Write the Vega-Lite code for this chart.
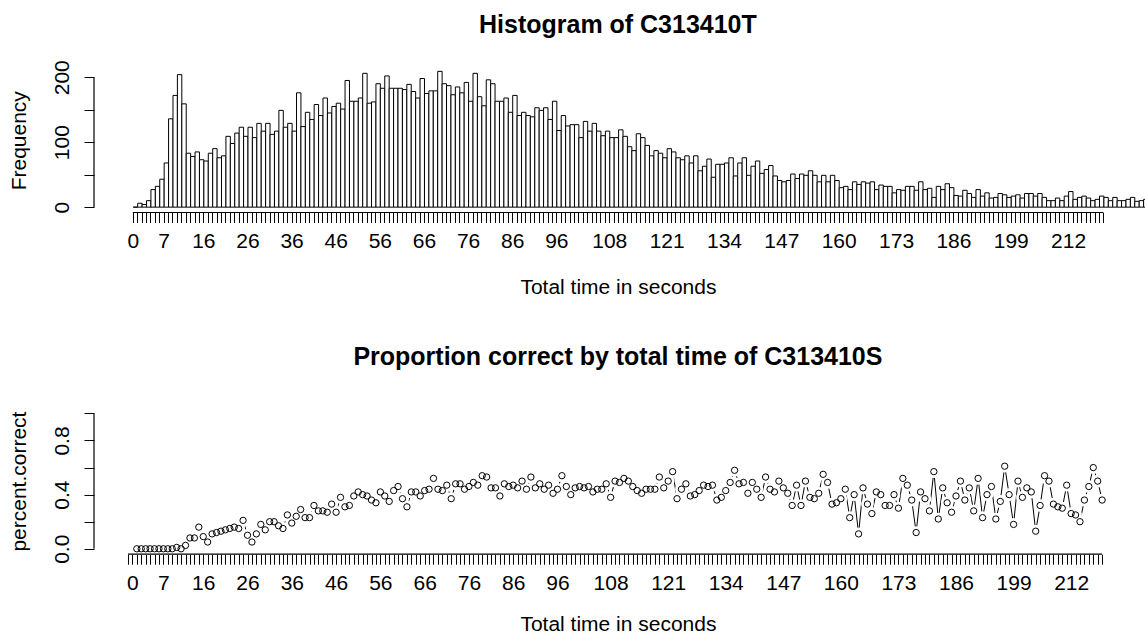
{
  "$schema": "https://vega.github.io/schema/vega-lite/v6.json",
  "background": "white",
  "padding": {"left": 9, "top": 12, "right": 0, "bottom": 0},
  "config": {
    "font": "Liberation Sans",
    "view": {"stroke": null},
    "axis": {
      "labelFont": "Liberation Sans", "labelFontSize": 21, "labelColor": "black",
      "titleFont": "Liberation Sans", "titleFontSize": 21, "titleFontWeight": "normal", "titleColor": "black",
      "tickColor": "black", "tickSize": 10, "tickWidth": 1, "domain": false, "grid": false
    },
    "title": {"font": "Liberation Sans", "fontSize": 25, "fontWeight": "bold", "color": "black", "frame": "group", "anchor": "middle"}
  },
  "datasets": {
    "hist": [
      {"t":0,"n":0},{"t":1,"n":6},{"t":2,"n":4},{"t":3,"n":10},{"t":4,"n":27},{"t":5,"n":32},{"t":6,"n":43},{"t":7,"n":68},{"t":8,"n":136},{"t":9,"n":172},
      {"t":10,"n":204},{"t":11,"n":159},{"t":12,"n":83},{"t":13,"n":78},{"t":14,"n":85},{"t":15,"n":73},{"t":16,"n":71},{"t":17,"n":83},{"t":18,"n":90},{"t":19,"n":76},
      {"t":20,"n":79},{"t":21,"n":109},{"t":22,"n":98},{"t":23,"n":114},{"t":24,"n":123},{"t":25,"n":109},{"t":26,"n":123},{"t":27,"n":107},{"t":28,"n":129},{"t":29,"n":117},
      {"t":30,"n":129},{"t":31,"n":112},{"t":32,"n":117},{"t":33,"n":149},{"t":34,"n":123},{"t":35,"n":129},{"t":36,"n":117},{"t":37,"n":176},{"t":38,"n":124},{"t":39,"n":146},
      {"t":40,"n":135},{"t":41,"n":158},{"t":42,"n":141},{"t":43,"n":168},{"t":44,"n":145},{"t":45,"n":155},{"t":46,"n":160},{"t":47,"n":151},{"t":48,"n":195},{"t":49,"n":163},
      {"t":50,"n":163},{"t":51,"n":168},{"t":52,"n":206},{"t":53,"n":160},{"t":54,"n":162},{"t":55,"n":190},{"t":56,"n":183},{"t":57,"n":202},{"t":58,"n":183},{"t":59,"n":183},
      {"t":60,"n":183},{"t":61,"n":181},{"t":62,"n":189},{"t":63,"n":178},{"t":64,"n":168},{"t":65,"n":198},{"t":66,"n":175},{"t":67,"n":179},{"t":68,"n":179},{"t":69,"n":209},
      {"t":70,"n":190},{"t":71,"n":187},{"t":72,"n":173},{"t":73,"n":185},{"t":74,"n":176},{"t":75,"n":192},{"t":76,"n":163},{"t":77,"n":206},{"t":78,"n":170},{"t":79,"n":156},
      {"t":80,"n":196},{"t":81,"n":190},{"t":82,"n":163},{"t":83,"n":163},{"t":84,"n":168},{"t":85,"n":146},{"t":86,"n":172},{"t":87,"n":141},{"t":88,"n":146},{"t":89,"n":141},
      {"t":90,"n":139},{"t":91,"n":153},{"t":92,"n":149},{"t":93,"n":153},{"t":94,"n":135},{"t":95,"n":163},{"t":96,"n":118},{"t":97,"n":141},{"t":98,"n":125},{"t":99,"n":127},
      {"t":100,"n":127},{"t":101,"n":107},{"t":102,"n":132},{"t":103,"n":117},{"t":104,"n":129},{"t":105,"n":117},{"t":106,"n":110},{"t":107,"n":117},{"t":108,"n":107},{"t":109,"n":107},
      {"t":110,"n":119},{"t":111,"n":109},{"t":112,"n":93},{"t":113,"n":87},{"t":114,"n":113},{"t":115,"n":107},{"t":116,"n":95},{"t":117,"n":79},{"t":118,"n":87},{"t":119,"n":83},
      {"t":120,"n":76},{"t":121,"n":90},{"t":122,"n":85},{"t":123,"n":76},{"t":124,"n":73},{"t":125,"n":79},{"t":126,"n":68},{"t":127,"n":79},{"t":128,"n":56},{"t":129,"n":63},
      {"t":130,"n":74},{"t":131,"n":46},{"t":132,"n":66},{"t":133,"n":66},{"t":134,"n":68},{"t":135,"n":76},{"t":136,"n":48},{"t":137,"n":68},{"t":138,"n":76},{"t":139,"n":49},
      {"t":140,"n":63},{"t":141,"n":71},{"t":142,"n":52},{"t":143,"n":58},{"t":144,"n":64},{"t":145,"n":48},{"t":146,"n":41},{"t":147,"n":39},{"t":148,"n":41},{"t":149,"n":51},
      {"t":150,"n":44},{"t":151,"n":51},{"t":152,"n":49},{"t":153,"n":56},{"t":154,"n":49},{"t":155,"n":39},{"t":156,"n":49},{"t":157,"n":39},{"t":158,"n":49},{"t":159,"n":41},
      {"t":160,"n":30},{"t":161,"n":32},{"t":162,"n":27},{"t":163,"n":39},{"t":164,"n":35},{"t":165,"n":39},{"t":166,"n":37},{"t":167,"n":39},{"t":168,"n":27},{"t":169,"n":34},
      {"t":170,"n":32},{"t":171,"n":32},{"t":172,"n":22},{"t":173,"n":27},{"t":174,"n":26},{"t":175,"n":32},{"t":176,"n":32},{"t":177,"n":26},{"t":178,"n":39},{"t":179,"n":27},
      {"t":180,"n":29},{"t":181,"n":15},{"t":182,"n":32},{"t":183,"n":27},{"t":184,"n":36},{"t":185,"n":30},{"t":186,"n":18},{"t":187,"n":17},{"t":188,"n":26},{"t":189,"n":21},
      {"t":190,"n":15},{"t":191,"n":27},{"t":192,"n":17},{"t":193,"n":22},{"t":194,"n":14},{"t":195,"n":15},{"t":196,"n":21},{"t":197,"n":19},{"t":198,"n":15},{"t":199,"n":17},
      {"t":200,"n":19},{"t":201,"n":14},{"t":202,"n":21},{"t":203,"n":21},{"t":204,"n":17},{"t":205,"n":21},{"t":206,"n":15},{"t":207,"n":10},{"t":208,"n":10},{"t":209,"n":14},
      {"t":210,"n":10},{"t":211,"n":17},{"t":212,"n":24},{"t":213,"n":12},{"t":214,"n":15},{"t":215,"n":17},{"t":216,"n":14},{"t":217,"n":10},{"t":218,"n":12},{"t":219,"n":17},
      {"t":220,"n":15},{"t":221,"n":10},{"t":222,"n":15},{"t":223,"n":10},{"t":224,"n":10},{"t":225,"n":12},{"t":226,"n":15},{"t":227,"n":9},{"t":228,"n":10},{"t":229,"n":12}
    ],
    "prop": [
      {"t":1,"p":0},{"t":2,"p":0},{"t":3,"p":0},{"t":4,"p":0},{"t":5,"p":0},{"t":6,"p":0},{"t":7,"p":0},{"t":8,"p":0},{"t":9,"p":0},{"t":10,"p":0.01},
      {"t":11,"p":0},{"t":12,"p":0.025},{"t":13,"p":0.08},{"t":14,"p":0.08},{"t":15,"p":0.16},{"t":16,"p":0.09},{"t":17,"p":0.05},{"t":18,"p":0.11},{"t":19,"p":0.12},{"t":20,"p":0.13},
      {"t":21,"p":0.14},{"t":22,"p":0.15},{"t":23,"p":0.16},{"t":24,"p":0.15},{"t":25,"p":0.21},{"t":26,"p":0.10},{"t":27,"p":0.05},{"t":28,"p":0.11},{"t":29,"p":0.18},{"t":30,"p":0.14},
      {"t":31,"p":0.20},{"t":32,"p":0.20},{"t":33,"p":0.17},{"t":34,"p":0.15},{"t":35,"p":0.25},{"t":36,"p":0.19},{"t":37,"p":0.24},{"t":38,"p":0.29},{"t":39,"p":0.23},{"t":40,"p":0.23},
      {"t":41,"p":0.32},{"t":42,"p":0.28},{"t":43,"p":0.28},{"t":44,"p":0.27},{"t":45,"p":0.33},{"t":46,"p":0.27},{"t":47,"p":0.38},{"t":48,"p":0.31},{"t":49,"p":0.32},{"t":50,"p":0.39},
      {"t":51,"p":0.42},{"t":52,"p":0.40},{"t":53,"p":0.39},{"t":54,"p":0.36},{"t":55,"p":0.34},{"t":56,"p":0.42},{"t":57,"p":0.39},{"t":58,"p":0.35},{"t":59,"p":0.43},{"t":60,"p":0.46},
      {"t":61,"p":0.37},{"t":62,"p":0.31},{"t":63,"p":0.42},{"t":64,"p":0.42},{"t":65,"p":0.39},{"t":66,"p":0.43},{"t":67,"p":0.44},{"t":68,"p":0.52},{"t":69,"p":0.44},{"t":70,"p":0.43},
      {"t":71,"p":0.47},{"t":72,"p":0.37},{"t":73,"p":0.48},{"t":74,"p":0.48},{"t":75,"p":0.44},{"t":76,"p":0.46},{"t":77,"p":0.49},{"t":78,"p":0.47},{"t":79,"p":0.54},{"t":80,"p":0.53},
      {"t":81,"p":0.45},{"t":82,"p":0.45},{"t":83,"p":0.39},{"t":84,"p":0.48},{"t":85,"p":0.46},{"t":86,"p":0.47},{"t":87,"p":0.45},{"t":88,"p":0.50},{"t":89,"p":0.44},{"t":90,"p":0.53},
      {"t":91,"p":0.45},{"t":92,"p":0.48},{"t":93,"p":0.44},{"t":94,"p":0.47},{"t":95,"p":0.41},{"t":96,"p":0.44},{"t":97,"p":0.54},{"t":98,"p":0.46},{"t":99,"p":0.40},{"t":100,"p":0.45},
      {"t":101,"p":0.46},{"t":102,"p":0.45},{"t":103,"p":0.46},{"t":104,"p":0.42},{"t":105,"p":0.44},{"t":106,"p":0.44},{"t":107,"p":0.48},{"t":108,"p":0.38},{"t":109,"p":0.50},{"t":110,"p":0.49},
      {"t":111,"p":0.52},{"t":112,"p":0.50},{"t":113,"p":0.46},{"t":114,"p":0.43},{"t":115,"p":0.41},{"t":116,"p":0.44},{"t":117,"p":0.44},{"t":118,"p":0.44},{"t":119,"p":0.53},{"t":120,"p":0.45},
      {"t":121,"p":0.50},{"t":122,"p":0.57},{"t":123,"p":0.37},{"t":124,"p":0.44},{"t":125,"p":0.48},{"t":126,"p":0.39},{"t":127,"p":0.40},{"t":128,"p":0.43},{"t":129,"p":0.47},{"t":130,"p":0.46},
      {"t":131,"p":0.47},{"t":132,"p":0.36},{"t":133,"p":0.38},{"t":134,"p":0.43},{"t":135,"p":0.49},{"t":136,"p":0.58},{"t":137,"p":0.48},{"t":138,"p":0.49},{"t":139,"p":0.41},{"t":140,"p":0.49},
      {"t":141,"p":0.44},{"t":142,"p":0.38},{"t":143,"p":0.53},{"t":144,"p":0.44},{"t":145,"p":0.42},{"t":146,"p":0.50},{"t":147,"p":0.45},{"t":148,"p":0.41},{"t":149,"p":0.32},{"t":150,"p":0.47},
      {"t":151,"p":0.32},{"t":152,"p":0.50},{"t":153,"p":0.38},{"t":154,"p":0.37},{"t":155,"p":0.41},{"t":156,"p":0.55},{"t":157,"p":0.49},{"t":158,"p":0.33},{"t":159,"p":0.34},{"t":160,"p":0.37},
      {"t":161,"p":0.44},{"t":162,"p":0.23},{"t":163,"p":0.40},{"t":164,"p":0.11},{"t":165,"p":0.45},{"t":166,"p":0.33},{"t":167,"p":0.26},{"t":168,"p":0.42},{"t":169,"p":0.40},{"t":170,"p":0.32},
      {"t":171,"p":0.32},{"t":172,"p":0.40},{"t":173,"p":0.30},{"t":174,"p":0.52},{"t":175,"p":0.47},{"t":176,"p":0.36},{"t":177,"p":0.12},{"t":178,"p":0.42},{"t":179,"p":0.37},{"t":180,"p":0.28},
      {"t":181,"p":0.57},{"t":182,"p":0.22},{"t":183,"p":0.45},{"t":184,"p":0.34},{"t":185,"p":0.27},{"t":186,"p":0.39},{"t":187,"p":0.50},{"t":188,"p":0.36},{"t":189,"p":0.45},{"t":190,"p":0.28},
      {"t":191,"p":0.52},{"t":192,"p":0.23},{"t":193,"p":0.40},{"t":194,"p":0.46},{"t":195,"p":0.22},{"t":196,"p":0.35},{"t":197,"p":0.61},{"t":198,"p":0.40},{"t":199,"p":0.18},{"t":200,"p":0.50},
      {"t":201,"p":0.38},{"t":202,"p":0.45},{"t":203,"p":0.42},{"t":204,"p":0.13},{"t":205,"p":0.32},{"t":206,"p":0.54},{"t":207,"p":0.50},{"t":208,"p":0.33},{"t":209,"p":0.31},{"t":210,"p":0.30},
      {"t":211,"p":0.47},{"t":212,"p":0.26},{"t":213,"p":0.25},{"t":214,"p":0.20},{"t":215,"p":0.36},{"t":216,"p":0.46},{"t":217,"p":0.60},{"t":218,"p":0.50},{"t":219,"p":0.36}
    ]
  },
  "spacing": 47,
  "vconcat": [
    {
      "width": 1047.8,
      "height": 144.5,
      "title": {"text": "Histogram of C313410T", "offset": 22},
      "layer": [
        {
          "data": {"name": "hist"},
          "mark": {"type": "bar", "fill": "white", "stroke": "black", "strokeWidth": 1, "binSpacing": 0},
          "encoding": {
            "x": {
              "field": "t", "type": "quantitative", "bin": {"binned": true, "step": 1},
              "scale": {"domain": [-8.79, 228.7], "nice": false, "zero": false},
              "axis": {
                "title": "Total time in seconds", "tickCount": 400,
                "values": [0,1,2,3,4,5,6,7,8,9,10,11,12,13,14,15,16,17,18,19,20,21,22,23,24,25,26,27,28,29,30,31,32,33,34,35,36,37,38,39,40,41,42,43,44,45,46,47,48,49,50,51,52,53,54,55,56,57,58,59,60,61,62,63,64,65,66,67,68,69,70,71,72,73,74,75,76,77,78,79,80,81,82,83,84,85,86,87,88,89,90,91,92,93,94,95,96,97,98,99,100,101,102,103,104,105,106,107,108,109,110,111,112,113,114,115,116,117,118,119,120,121,122,123,124,125,126,127,128,129,130,131,132,133,134,135,136,137,138,139,140,141,142,143,144,145,146,147,148,149,150,151,152,153,154,155,156,157,158,159,160,161,162,163,164,165,166,167,168,169,170,171,172,173,174,175,176,177,178,179,180,181,182,183,184,185,186,187,188,189,190,191,192,193,194,195,196,197,198,199,200,201,202,203,204,205,206,207,208,209,210,211,212,213,214,215,216,217,218,219,220],
                "format": "d",
                "labelExpr": "indexof([0,7,16,26,36,46,56,66,76,86,96,108,121,134,147,160,173,186,199,212], datum.value) >= 0 ? datum.label : ''",
                "labelOverlap": false, "labelFlush": false, "labelPadding": 8, "titlePadding": 25
              }
            },
            "y": {
              "field": "n", "type": "quantitative",
              "scale": {"domain": [-8.24, 214.2], "nice": false, "zero": false},
              "axis": {
                "title": "Frequency", "values": [0, 50, 100, 150, 200], "tickCount": 20,
                "labelExpr": "datum.value % 100 == 0 ? datum.label : ''",
                "labelAngle": -90, "labelAlign": "center", "labelBaseline": "bottom",
                "labelPadding": 11, "labelOverlap": false, "minExtent": 45, "maxExtent": 45, "titlePadding": 19
              }
            }
          }
        },
        {
          "data": {"values": [{}]},
          "mark": {"type": "rule", "color": "black", "strokeWidth": 1.2},
          "encoding": {"x": {"datum": 0}, "x2": {"datum": 220}, "y": {"datum": -8.24}}
        },
        {
          "data": {"values": [{}]},
          "mark": {"type": "rule", "color": "black", "strokeWidth": 1.2},
          "encoding": {"x": {"datum": -8.79}, "y": {"datum": 0}, "y2": {"datum": 200}}
        }
      ]
    },
    {
      "width": 1047.8,
      "height": 146.2,
      "title": {"text": "Proportion correct by total time of C313410S", "offset": 38},
      "layer": [
        {
          "data": {"name": "prop"},
          "mark": {"type": "line", "color": "black", "strokeWidth": 1},
          "encoding": {
            "x": {
              "field": "t", "type": "quantitative",
              "scale": {"domain": [-8.67, 227.96], "nice": false, "zero": false},
              "axis": {
                "title": "Total time in seconds", "tickCount": 400,
                "values": [-1,0,1,2,3,4,5,6,7,8,9,10,11,12,13,14,15,16,17,18,19,20,21,22,23,24,25,26,27,28,29,30,31,32,33,34,35,36,37,38,39,40,41,42,43,44,45,46,47,48,49,50,51,52,53,54,55,56,57,58,59,60,61,62,63,64,65,66,67,68,69,70,71,72,73,74,75,76,77,78,79,80,81,82,83,84,85,86,87,88,89,90,91,92,93,94,95,96,97,98,99,100,101,102,103,104,105,106,107,108,109,110,111,112,113,114,115,116,117,118,119,120,121,122,123,124,125,126,127,128,129,130,131,132,133,134,135,136,137,138,139,140,141,142,143,144,145,146,147,148,149,150,151,152,153,154,155,156,157,158,159,160,161,162,163,164,165,166,167,168,169,170,171,172,173,174,175,176,177,178,179,180,181,182,183,184,185,186,187,188,189,190,191,192,193,194,195,196,197,198,199,200,201,202,203,204,205,206,207,208,209,210,211,212,213,214,215,216,217,218,219],
                "format": "d",
                "labelExpr": "indexof([0,7,16,26,36,46,56,66,76,86,96,108,121,134,147,160,173,186,199,212], datum.value) >= 0 ? datum.label : ''",
                "labelOverlap": false, "labelFlush": false, "labelPadding": 8, "titlePadding": 20
              }
            },
            "y": {
              "field": "p", "type": "quantitative",
              "scale": {"domain": [-0.04, 1.04], "nice": false, "zero": false},
              "axis": {
                "title": "percent.correct", "values": [0, 0.2, 0.4, 0.6, 0.8, 1.0], "tickCount": 20,
                "labelExpr": "(abs(datum.value) < 0.001 || abs(datum.value - 0.4) < 0.001 || abs(datum.value - 0.8) < 0.001) ? format(datum.value, '.1f') : ''",
                "labelAngle": -90, "labelAlign": "center", "labelBaseline": "bottom",
                "labelPadding": 11, "labelOverlap": false, "minExtent": 45, "maxExtent": 45, "titlePadding": 19
              }
            }
          }
        },
        {
          "data": {"name": "prop"},
          "mark": {"type": "point", "shape": "circle", "filled": true, "color": "white", "opacity": 1, "size": 160},
          "encoding": {"x": {"field": "t", "type": "quantitative"}, "y": {"field": "p", "type": "quantitative"}}
        },
        {
          "data": {"name": "prop"},
          "mark": {"type": "point", "shape": "circle", "filled": false, "stroke": "black", "strokeWidth": 1, "opacity": 1, "size": 40},
          "encoding": {"x": {"field": "t", "type": "quantitative"}, "y": {"field": "p", "type": "quantitative"}}
        },
        {
          "data": {"values": [{}]},
          "mark": {"type": "rule", "color": "black", "strokeWidth": 1.2},
          "encoding": {"x": {"datum": -1}, "x2": {"datum": 219}, "y": {"datum": -0.04}}
        },
        {
          "data": {"values": [{}]},
          "mark": {"type": "rule", "color": "black", "strokeWidth": 1.2},
          "encoding": {"x": {"datum": -8.67}, "y": {"datum": 0}, "y2": {"datum": 1}}
        }
      ]
    }
  ]
}
